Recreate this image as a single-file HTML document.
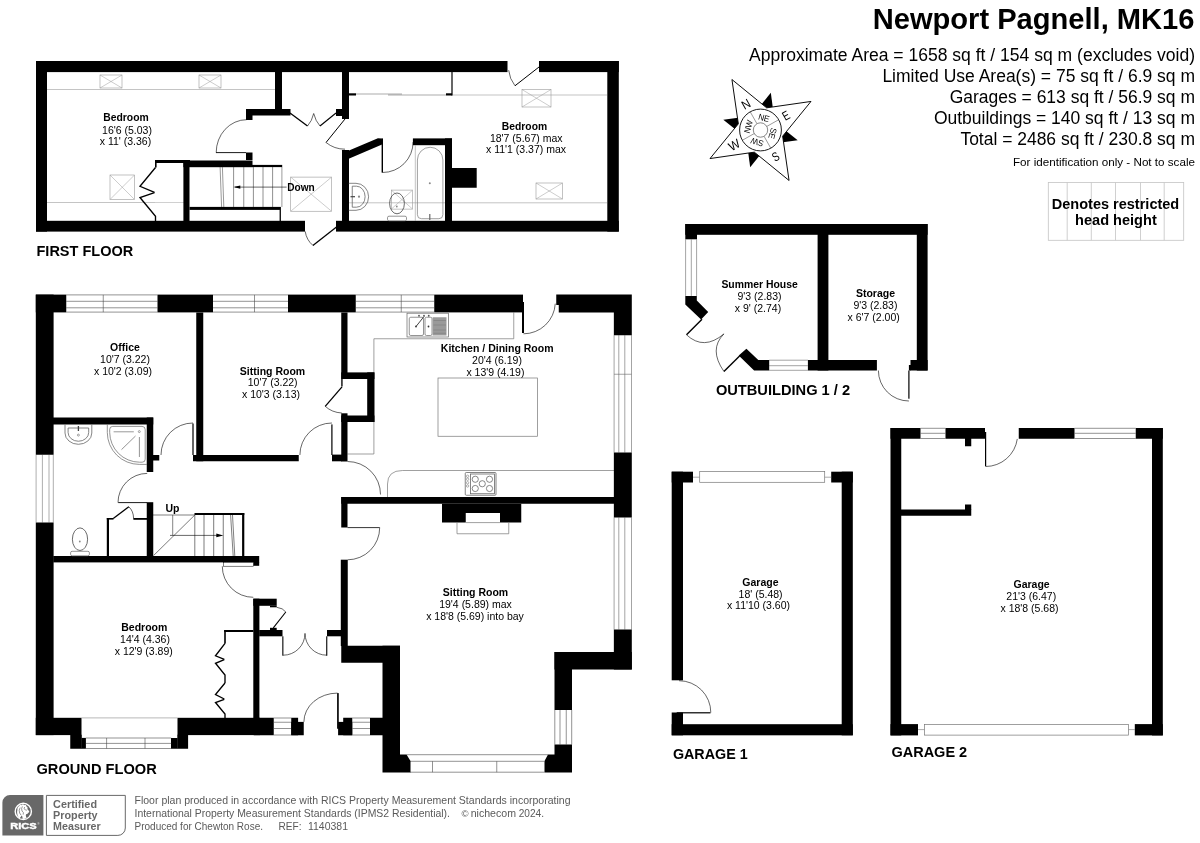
<!DOCTYPE html>
<html><head><meta charset="utf-8"><title>Floor plan</title>
<style>
html,body{margin:0;padding:0;background:#fff;}
body{width:1200px;height:843px;overflow:hidden;font-family:"Liberation Sans",sans-serif;}
svg{display:block;will-change:transform;font-family:"Liberation Sans",sans-serif;}
</style></head><body>
<svg width="1200" height="843" viewBox="0 0 1200 843">
<rect width="1200" height="843" fill="#fff"/>
<line x1="47.00" y1="89.50" x2="275.00" y2="89.50" stroke="#aaa" stroke-width="0.7"/>
<line x1="47.00" y1="202.50" x2="155.00" y2="202.50" stroke="#aaa" stroke-width="0.7"/>
<line x1="155.00" y1="202.50" x2="184.00" y2="202.50" stroke="#bbb" stroke-width="0.7"/>
<line x1="452.00" y1="95.00" x2="607.00" y2="95.00" stroke="#aaa" stroke-width="0.7"/>
<line x1="349.00" y1="202.80" x2="607.00" y2="202.80" stroke="#aaa" stroke-width="0.7"/>
<rect x="100.00" y="75.00" width="22.00" height="13.00" fill="none" stroke="#9a9a9a" stroke-width="0.6" rx="0"/>
<line x1="100.00" y1="75.00" x2="122.00" y2="88.00" stroke="#9a9a9a" stroke-width="0.5"/>
<line x1="100.00" y1="88.00" x2="122.00" y2="75.00" stroke="#9a9a9a" stroke-width="0.5"/>
<rect x="199.00" y="75.00" width="22.00" height="13.00" fill="none" stroke="#9a9a9a" stroke-width="0.6" rx="0"/>
<line x1="199.00" y1="75.00" x2="221.00" y2="88.00" stroke="#9a9a9a" stroke-width="0.5"/>
<line x1="199.00" y1="88.00" x2="221.00" y2="75.00" stroke="#9a9a9a" stroke-width="0.5"/>
<rect x="110.00" y="175.00" width="24.50" height="24.50" fill="none" stroke="#9a9a9a" stroke-width="0.6" rx="0"/>
<line x1="110.00" y1="175.00" x2="134.50" y2="199.50" stroke="#9a9a9a" stroke-width="0.5"/>
<line x1="110.00" y1="199.50" x2="134.50" y2="175.00" stroke="#9a9a9a" stroke-width="0.5"/>
<rect x="290.70" y="177.10" width="40.90" height="34.15" fill="none" stroke="#9a9a9a" stroke-width="0.6" rx="0"/>
<line x1="290.70" y1="177.10" x2="331.60" y2="211.25" stroke="#9a9a9a" stroke-width="0.5"/>
<line x1="290.70" y1="211.25" x2="331.60" y2="177.10" stroke="#9a9a9a" stroke-width="0.5"/>
<rect x="391.30" y="190.10" width="21.30" height="19.00" fill="none" stroke="#9a9a9a" stroke-width="0.6" rx="0"/>
<line x1="391.30" y1="190.10" x2="412.60" y2="209.10" stroke="#9a9a9a" stroke-width="0.5"/>
<line x1="391.30" y1="209.10" x2="412.60" y2="190.10" stroke="#9a9a9a" stroke-width="0.5"/>
<rect x="522.00" y="89.50" width="29.00" height="17.50" fill="none" stroke="#9a9a9a" stroke-width="0.6" rx="0"/>
<line x1="522.00" y1="89.50" x2="551.00" y2="107.00" stroke="#9a9a9a" stroke-width="0.5"/>
<line x1="522.00" y1="107.00" x2="551.00" y2="89.50" stroke="#9a9a9a" stroke-width="0.5"/>
<rect x="536.00" y="183.00" width="26.50" height="16.00" fill="none" stroke="#9a9a9a" stroke-width="0.6" rx="0"/>
<line x1="536.00" y1="183.00" x2="562.50" y2="199.00" stroke="#9a9a9a" stroke-width="0.5"/>
<line x1="536.00" y1="199.00" x2="562.50" y2="183.00" stroke="#9a9a9a" stroke-width="0.5"/>
<rect x="36.00" y="61.00" width="471.50" height="11.10" fill="#000"/>
<rect x="539.00" y="61.00" width="79.80" height="11.10" fill="#000"/>
<rect x="36.00" y="61.00" width="11.00" height="170.60" fill="#000"/>
<rect x="607.30" y="61.00" width="11.50" height="170.60" fill="#000"/>
<rect x="36.00" y="220.80" width="269.00" height="10.80" fill="#000"/>
<rect x="336.00" y="220.80" width="282.80" height="10.80" fill="#000"/>
<rect x="275.00" y="72.00" width="7.00" height="38.00" fill="#000"/>
<rect x="246.00" y="109.00" width="44.50" height="6.50" fill="#000"/>
<rect x="246.00" y="112.00" width="6.50" height="8.00" fill="#000"/>
<rect x="342.00" y="72.00" width="7.00" height="47.00" fill="#000"/>
<rect x="336.00" y="109.00" width="6.50" height="7.00" fill="#000"/>
<line x1="216.00" y1="152.60" x2="246.00" y2="152.60" stroke="#000" stroke-width="0.9"/>
<path d="M216.2,152.6 A30.4,32.9 0 0 1 246.6,119.7" fill="none" stroke="#000" stroke-width="0.6" />
<rect x="246.00" y="152.50" width="6.50" height="7.50" fill="#000"/>
<rect x="155.00" y="160.00" width="35.00" height="3.00" fill="#000"/>
<rect x="155.00" y="160.00" width="1.60" height="7.50" fill="#000"/>
<rect x="183.40" y="160.50" width="69.10" height="6.70" fill="#000"/>
<rect x="183.40" y="160.50" width="6.10" height="60.50" fill="#000"/>
<rect x="252.00" y="164.90" width="30.20" height="2.20" fill="#000"/>
<line x1="281.90" y1="167.00" x2="281.90" y2="207.00" stroke="#555" stroke-width="0.6"/>
<rect x="189.50" y="206.90" width="91.40" height="3.00" fill="#000"/>
<rect x="279.60" y="209.50" width="1.30" height="11.50" fill="#000"/>
<line x1="233.60" y1="167.00" x2="233.60" y2="207.00" stroke="#333" stroke-width="0.55"/>
<line x1="243.75" y1="167.00" x2="243.75" y2="207.00" stroke="#333" stroke-width="0.55"/>
<line x1="253.40" y1="167.00" x2="253.40" y2="207.00" stroke="#333" stroke-width="0.55"/>
<line x1="263.00" y1="167.00" x2="263.00" y2="207.00" stroke="#333" stroke-width="0.55"/>
<line x1="272.60" y1="167.00" x2="272.60" y2="207.00" stroke="#333" stroke-width="0.55"/>
<line x1="220.10" y1="167.00" x2="221.60" y2="207.00" stroke="#333" stroke-width="0.5"/>
<line x1="222.40" y1="167.00" x2="223.80" y2="207.00" stroke="#333" stroke-width="0.5"/>
<line x1="235.00" y1="187.10" x2="286.60" y2="187.10" stroke="#000" stroke-width="0.6"/>
<polygon points="233.40,187.10 240.30,185.40 240.30,188.80" fill="#000" stroke="none" stroke-width="0"/>
<polyline points="155.50,167.50 140.00,186.25 154.50,192.30" fill="none" stroke="#000" stroke-width="1.35" />
<polyline points="154.50,192.60 140.00,197.50 155.50,216.25 155.50,221.00" fill="none" stroke="#000" stroke-width="1.35" />
<line x1="290.00" y1="113.00" x2="307.50" y2="126.00" stroke="#000" stroke-width="1.3"/>
<line x1="336.00" y1="113.00" x2="320.00" y2="126.00" stroke="#000" stroke-width="1.1"/>
<path d="M307.5,126 Q312,121 313.7,113.5 Q315.5,121 320,126" fill="none" stroke="#000" stroke-width="0.6" />
<line x1="345.00" y1="119.00" x2="326.00" y2="142.50" stroke="#000" stroke-width="1.0"/>
<path d="M325.99,142.47 A30.20,30.20 0 0 0 345.00,149.20" fill="none" stroke="#000" stroke-width="0.6" />
<rect x="342.00" y="150.00" width="7.00" height="71.00" fill="#000"/>
<polygon points="341.75,150.10 348.40,150.80 377.90,138.20 381.80,138.40 382.60,144.20 348.75,158.80" fill="#000" stroke="none" stroke-width="0"/>
<rect x="381.60" y="138.40" width="1.40" height="34.20" fill="#000"/>
<path d="M382.60,172.50 A30.50,30.50 0 0 0 413.10,142.00" fill="none" stroke="#000" stroke-width="0.6" />
<rect x="412.90" y="138.40" width="39.10" height="6.80" fill="#000"/>
<rect x="445.00" y="138.40" width="7.00" height="82.60" fill="#000"/>
<rect x="452.00" y="168.00" width="24.70" height="19.75" fill="#000"/>
<line x1="415.30" y1="145.20" x2="415.30" y2="221.00" stroke="#9a9a9a" stroke-width="0.6"/>
<path d="M417.4,214.7 V160 A12.75,12.75 0 0 1 442.9,160 V214.7 A4,4 0 0 1 438.9,218.7 H421.4 A4,4 0 0 1 417.4,214.7 Z" fill="none" stroke="#777" stroke-width="0.7" />
<circle cx="429.8" cy="183.3" r="1" fill="#888"/>
<line x1="429.80" y1="214.00" x2="429.80" y2="220.00" stroke="#666" stroke-width="1.2"/>
<path d="M348.75,183.3 H356 A12.6,13.5 0 0 1 356,210.3 H348.75" fill="none" stroke="#666" stroke-width="0.8" />
<path d="M352.25,186.2 H356.5 A8.6,10.5 0 0 1 356.5,207.2 H352.25 Z" fill="none" stroke="#666" stroke-width="0.8" />
<line x1="350.50" y1="196.70" x2="355.00" y2="196.70" stroke="#444" stroke-width="1.2"/>
<circle cx="359" cy="196.7" r="1.1" fill="#888"/>
<ellipse cx="397" cy="203.4" rx="7.4" ry="10.4" fill="none" stroke="#444" stroke-width="0.8"/>
<rect x="387.50" y="216.20" width="19.00" height="4.60" fill="#fff" stroke="#666" stroke-width="0.7" rx="1.5"/>
<circle cx="396.8" cy="206.5" r="0.9" fill="#888"/>
<line x1="452.00" y1="72.00" x2="452.00" y2="95.50" stroke="#000" stroke-width="1.2"/>
<rect x="349.00" y="93.30" width="7.00" height="2.20" fill="#000"/>
<rect x="446.00" y="93.30" width="6.00" height="2.20" fill="#000"/>
<line x1="356.00" y1="94.00" x2="402.00" y2="94.00" stroke="#555" stroke-width="0.5"/>
<line x1="388.00" y1="95.00" x2="446.00" y2="95.00" stroke="#555" stroke-width="0.5"/>
<line x1="539.00" y1="67.00" x2="515.00" y2="85.75" stroke="#000" stroke-width="1.0"/>
<path d="M514.97,85.78 A30.50,30.50 0 0 1 508.67,70.19" fill="none" stroke="#000" stroke-width="0.6" />
<line x1="336.50" y1="227.00" x2="312.90" y2="245.40" stroke="#000" stroke-width="1.3"/>
<path d="M312.9,245.4 Q306.5,240 305.2,231.4" fill="none" stroke="#000" stroke-width="0.6" />
<text x="126.00" y="121.40" font-size="10.5" text-anchor="middle" font-weight="bold" textLength="45.50" lengthAdjust="spacingAndGlyphs" fill="#000" >Bedroom</text>
<text x="127.00" y="133.50" font-size="10.5" text-anchor="middle" fill="#000" >16'6 (5.03)</text>
<text x="125.50" y="145.40" font-size="10.5" text-anchor="middle" fill="#000" >x 11' (3.36)</text>
<text x="524.50" y="129.60" font-size="10.5" text-anchor="middle" font-weight="bold" textLength="45.30" lengthAdjust="spacingAndGlyphs" fill="#000" >Bedroom</text>
<text x="526.20" y="141.80" font-size="10.5" text-anchor="middle" fill="#000" >18'7 (5.67) max</text>
<text x="526.00" y="152.90" font-size="10.5" text-anchor="middle" fill="#000" >x 11'1 (3.37) max</text>
<text x="301.00" y="190.50" font-size="10.5" text-anchor="middle" font-weight="bold" textLength="27.50" lengthAdjust="spacingAndGlyphs" fill="#000" >Down</text>
<text x="36.50" y="256.10" font-size="14.5" text-anchor="start" font-weight="bold" textLength="96.70" lengthAdjust="spacingAndGlyphs" fill="#000" >FIRST FLOOR</text>
<line x1="66.25" y1="294.90" x2="157.50" y2="294.90" stroke="#4a4a4a" stroke-width="0.6"/>
<line x1="66.25" y1="301.30" x2="157.50" y2="301.30" stroke="#4a4a4a" stroke-width="0.6"/>
<line x1="66.25" y1="307.80" x2="157.50" y2="307.80" stroke="#4a4a4a" stroke-width="0.6"/>
<line x1="66.25" y1="312.10" x2="157.50" y2="312.10" stroke="#4a4a4a" stroke-width="0.6"/>
<line x1="103.25" y1="294.90" x2="103.25" y2="312.10" stroke="#4a4a4a" stroke-width="0.6"/>
<line x1="213.00" y1="294.90" x2="288.00" y2="294.90" stroke="#4a4a4a" stroke-width="0.6"/>
<line x1="213.00" y1="301.30" x2="288.00" y2="301.30" stroke="#4a4a4a" stroke-width="0.6"/>
<line x1="213.00" y1="307.80" x2="288.00" y2="307.80" stroke="#4a4a4a" stroke-width="0.6"/>
<line x1="213.00" y1="312.10" x2="288.00" y2="312.10" stroke="#4a4a4a" stroke-width="0.6"/>
<line x1="254.50" y1="294.90" x2="254.50" y2="312.10" stroke="#4a4a4a" stroke-width="0.6"/>
<line x1="355.75" y1="294.90" x2="434.25" y2="294.90" stroke="#4a4a4a" stroke-width="0.6"/>
<line x1="355.75" y1="301.30" x2="434.25" y2="301.30" stroke="#4a4a4a" stroke-width="0.6"/>
<line x1="355.75" y1="307.80" x2="434.25" y2="307.80" stroke="#4a4a4a" stroke-width="0.6"/>
<line x1="355.75" y1="312.10" x2="434.25" y2="312.10" stroke="#4a4a4a" stroke-width="0.6"/>
<line x1="401.25" y1="294.90" x2="401.25" y2="312.10" stroke="#4a4a4a" stroke-width="0.6"/>
<line x1="36.10" y1="454.75" x2="36.10" y2="522.50" stroke="#777" stroke-width="0.6"/>
<line x1="42.40" y1="454.75" x2="42.40" y2="522.50" stroke="#777" stroke-width="0.6"/>
<line x1="49.00" y1="454.75" x2="49.00" y2="522.50" stroke="#777" stroke-width="0.6"/>
<line x1="53.30" y1="454.75" x2="53.30" y2="522.50" stroke="#777" stroke-width="0.6"/>
<line x1="614.10" y1="335.20" x2="614.10" y2="452.50" stroke="#666" stroke-width="0.6"/>
<line x1="618.80" y1="335.20" x2="618.80" y2="452.50" stroke="#666" stroke-width="0.6"/>
<line x1="624.80" y1="335.20" x2="624.80" y2="452.50" stroke="#666" stroke-width="0.6"/>
<line x1="631.50" y1="335.20" x2="631.50" y2="452.50" stroke="#666" stroke-width="0.6"/>
<line x1="614.10" y1="374.25" x2="631.50" y2="374.25" stroke="#666" stroke-width="0.6"/>
<line x1="614.10" y1="517.50" x2="614.10" y2="629.50" stroke="#666" stroke-width="0.6"/>
<line x1="618.80" y1="517.50" x2="618.80" y2="629.50" stroke="#666" stroke-width="0.6"/>
<line x1="624.80" y1="517.50" x2="624.80" y2="629.50" stroke="#666" stroke-width="0.6"/>
<line x1="631.50" y1="517.50" x2="631.50" y2="629.50" stroke="#666" stroke-width="0.6"/>
<polyline points="513.75,312.50 513.75,338.75 373.90,338.75 373.90,454.00" fill="none" stroke="#777" stroke-width="0.7" />
<line x1="347.50" y1="454.00" x2="373.90" y2="454.00" stroke="#777" stroke-width="0.7"/>
<path d="M387.5,497 V484 Q387.5,470.5 402.5,470.5 H614.25" fill="none" stroke="#777" stroke-width="0.7" />
<rect x="438.00" y="378.00" width="99.50" height="58.25" fill="none" stroke="#777" stroke-width="0.7" rx="0"/>
<rect x="35.80" y="294.60" width="30.45" height="17.80" fill="#000"/>
<rect x="157.50" y="294.60" width="55.50" height="17.80" fill="#000"/>
<rect x="288.00" y="294.60" width="67.75" height="17.80" fill="#000"/>
<rect x="434.25" y="294.60" width="88.75" height="17.80" fill="#000"/>
<polygon points="556.25,294.60 631.80,294.60 631.80,335.20 613.85,335.20 613.85,312.40 558.75,312.40 558.75,305.00 556.25,305.00" fill="#000" stroke="none" stroke-width="0"/>
<rect x="35.80" y="294.60" width="17.80" height="160.15" fill="#000"/>
<rect x="35.80" y="522.50" width="17.80" height="212.60" fill="#000"/>
<rect x="613.85" y="452.50" width="17.95" height="65.00" fill="#000"/>
<rect x="613.85" y="629.50" width="17.95" height="40.00" fill="#000"/>
<rect x="554.50" y="652.00" width="77.30" height="17.50" fill="#000"/>
<rect x="554.50" y="652.00" width="17.50" height="58.00" fill="#000"/>
<line x1="554.80" y1="710.00" x2="554.80" y2="744.50" stroke="#4a4a4a" stroke-width="0.6"/>
<line x1="560.00" y1="710.00" x2="560.00" y2="744.50" stroke="#4a4a4a" stroke-width="0.6"/>
<line x1="566.25" y1="710.00" x2="566.25" y2="744.50" stroke="#4a4a4a" stroke-width="0.6"/>
<line x1="571.70" y1="710.00" x2="571.70" y2="744.50" stroke="#4a4a4a" stroke-width="0.6"/>
<polygon points="554.50,744.50 572.00,744.50 572.00,772.50 544.50,772.50 544.50,761.00 548.00,754.50 554.50,754.50" fill="#000" stroke="none" stroke-width="0"/>
<line x1="406.50" y1="754.70" x2="548.00" y2="754.70" stroke="#4a4a4a" stroke-width="0.6"/>
<line x1="410.00" y1="761.30" x2="544.50" y2="761.30" stroke="#4a4a4a" stroke-width="0.6"/>
<line x1="410.00" y1="772.20" x2="544.50" y2="772.20" stroke="#4a4a4a" stroke-width="0.6"/>
<line x1="432.50" y1="761.30" x2="432.50" y2="772.20" stroke="#4a4a4a" stroke-width="0.6"/>
<line x1="496.75" y1="761.30" x2="496.75" y2="772.20" stroke="#4a4a4a" stroke-width="0.6"/>
<polygon points="382.50,645.75 400.00,645.75 400.00,754.50 406.50,754.50 410.50,761.00 410.50,772.50 382.50,772.50" fill="#000" stroke="none" stroke-width="0"/>
<rect x="341.25" y="645.75" width="58.75" height="17.00" fill="#000"/>
<rect x="338.10" y="721.90" width="14.15" height="13.35" fill="#000"/>
<rect x="343.20" y="717.75" width="9.05" height="17.50" fill="#000"/>
<line x1="352.25" y1="718.00" x2="370.00" y2="718.00" stroke="#4a4a4a" stroke-width="0.6"/>
<line x1="352.25" y1="722.25" x2="370.00" y2="722.25" stroke="#4a4a4a" stroke-width="0.6"/>
<line x1="352.25" y1="728.50" x2="370.00" y2="728.50" stroke="#4a4a4a" stroke-width="0.6"/>
<line x1="352.25" y1="735.00" x2="370.00" y2="735.00" stroke="#4a4a4a" stroke-width="0.6"/>
<rect x="370.00" y="717.75" width="13.00" height="17.50" fill="#000"/>
<rect x="253.75" y="717.75" width="20.00" height="17.50" fill="#000"/>
<line x1="273.75" y1="718.00" x2="291.25" y2="718.00" stroke="#4a4a4a" stroke-width="0.6"/>
<line x1="273.75" y1="722.25" x2="291.25" y2="722.25" stroke="#4a4a4a" stroke-width="0.6"/>
<line x1="273.75" y1="728.50" x2="291.25" y2="728.50" stroke="#4a4a4a" stroke-width="0.6"/>
<line x1="273.75" y1="735.00" x2="291.25" y2="735.00" stroke="#4a4a4a" stroke-width="0.6"/>
<rect x="291.25" y="717.75" width="6.85" height="17.50" fill="#000"/>
<rect x="291.25" y="721.90" width="12.50" height="13.35" fill="#000"/>
<rect x="337.10" y="693.10" width="1.65" height="35.65" fill="#000"/>
<path d="M303.9,721.9 A33.6,28.8 0 0 1 337.5,693.1" fill="none" stroke="#000" stroke-width="0.6" />
<rect x="35.80" y="717.80" width="45.70" height="17.30" fill="#000"/>
<rect x="177.50" y="717.80" width="82.50" height="17.30" fill="#000"/>
<rect x="70.25" y="734.80" width="11.55" height="13.95" fill="#000"/>
<rect x="81.50" y="737.90" width="4.40" height="10.85" fill="#000"/>
<rect x="177.30" y="734.80" width="10.80" height="13.95" fill="#000"/>
<rect x="171.00" y="738.00" width="6.60" height="10.75" fill="#000"/>
<line x1="81.50" y1="717.90" x2="177.50" y2="717.90" stroke="#888" stroke-width="0.6"/>
<line x1="85.90" y1="738.00" x2="171.20" y2="738.00" stroke="#4a4a4a" stroke-width="0.6"/>
<line x1="85.90" y1="743.40" x2="171.20" y2="743.40" stroke="#4a4a4a" stroke-width="0.6"/>
<line x1="85.90" y1="748.50" x2="171.20" y2="748.50" stroke="#4a4a4a" stroke-width="0.6"/>
<line x1="106.60" y1="738.00" x2="106.60" y2="748.50" stroke="#4a4a4a" stroke-width="0.6"/>
<line x1="145.00" y1="738.00" x2="145.00" y2="748.50" stroke="#4a4a4a" stroke-width="0.6"/>
<rect x="196.25" y="312.50" width="7.00" height="148.75" fill="#000"/>
<rect x="193.00" y="455.00" width="105.75" height="6.25" fill="#000"/>
<rect x="192.40" y="423.50" width="1.20" height="31.50" fill="#000"/>
<path d="M193.00,423.00 A32.00,32.00 0 0 0 161.00,455.00" fill="none" stroke="#000" stroke-width="0.6" />
<rect x="53.00" y="417.50" width="100.25" height="7.00" fill="#000"/>
<rect x="146.75" y="417.50" width="6.50" height="54.50" fill="#000"/>
<rect x="153.00" y="455.00" width="6.25" height="5.50" fill="#000"/>
<rect x="341.25" y="312.50" width="6.25" height="66.50" fill="#000"/>
<rect x="341.25" y="372.40" width="33.15" height="6.60" fill="#000"/>
<rect x="367.20" y="372.40" width="7.20" height="49.60" fill="#000"/>
<rect x="341.25" y="415.50" width="33.15" height="6.50" fill="#000"/>
<rect x="341.25" y="413.30" width="6.25" height="48.20" fill="#000"/>
<rect x="341.25" y="379.00" width="1.35" height="7.50" fill="#000"/>
<line x1="342.00" y1="386.80" x2="325.20" y2="406.30" stroke="#000" stroke-width="1.3"/>
<path d="M325.2,406.3 Q332,412.5 341.8,413" fill="none" stroke="#000" stroke-width="0.6" />
<rect x="332.00" y="454.60" width="10.00" height="6.70" fill="#000"/>
<rect x="331.30" y="424.40" width="1.20" height="30.60" fill="#000"/>
<path d="M331.90,423.00 A32.00,32.00 0 0 0 299.90,455.00" fill="none" stroke="#000" stroke-width="0.6" />
<rect x="522.00" y="302.00" width="2.00" height="31.00" fill="#000"/>
<path d="M523.50,333.80 A31.80,31.80 0 0 0 555.26,303.66" fill="none" stroke="#000" stroke-width="0.6" />
<path d="M347.50,461.50 A33.00,33.00 0 0 1 380.50,494.50" fill="none" stroke="#000" stroke-width="0.6" />
<rect x="341.25" y="497.00" width="273.00" height="6.75" fill="#000"/>
<rect x="341.25" y="497.00" width="6.25" height="30.50" fill="#000"/>
<rect x="341.25" y="560.00" width="6.25" height="86.00" fill="#000"/>
<line x1="347.50" y1="527.60" x2="379.70" y2="527.60" stroke="#000" stroke-width="0.8"/>
<path d="M379.70,527.60 A32.20,32.20 0 0 1 347.50,559.80" fill="none" stroke="#000" stroke-width="0.6" />
<rect x="442.00" y="503.75" width="79.25" height="18.75" fill="#000"/>
<rect x="465.75" y="513.00" width="34.25" height="10.00" fill="#fff"/>
<polyline points="457.00,522.50 457.00,533.75 508.75,533.75 508.75,522.50" fill="none" stroke="#777" stroke-width="0.7" />
<line x1="465.75" y1="522.60" x2="500.00" y2="522.60" stroke="#777" stroke-width="0.7"/>
<line x1="118.20" y1="502.60" x2="147.20" y2="502.60" stroke="#000" stroke-width="0.9"/>
<path d="M118.00,502.60 A29.20,29.20 0 0 1 147.20,473.40" fill="none" stroke="#000" stroke-width="0.6" />
<rect x="146.75" y="502.20" width="6.50" height="54.30" fill="#000"/>
<rect x="106.80" y="518.00" width="2.20" height="38.50" fill="#000"/>
<rect x="106.80" y="518.00" width="6.70" height="1.60" fill="#000"/>
<rect x="133.40" y="518.00" width="13.80" height="1.80" fill="#000"/>
<line x1="113.25" y1="518.60" x2="128.80" y2="506.75" stroke="#000" stroke-width="1.3"/>
<path d="M128.8,506.75 Q133.5,511 133.6,518.5" fill="none" stroke="#000" stroke-width="0.6" />
<rect x="53.25" y="556.00" width="205.95" height="6.40" fill="#000"/>
<rect x="253.30" y="562.00" width="5.90" height="3.80" fill="#000"/>
<rect x="194.50" y="513.00" width="49.80" height="2.00" fill="#000"/>
<rect x="242.10" y="513.00" width="2.20" height="43.50" fill="#000"/>
<line x1="153.00" y1="515.00" x2="194.80" y2="515.00" stroke="#000" stroke-width="0.5"/>
<line x1="194.80" y1="515.00" x2="194.80" y2="556.00" stroke="#222" stroke-width="0.6"/>
<line x1="204.00" y1="515.00" x2="204.00" y2="556.00" stroke="#222" stroke-width="0.6"/>
<line x1="213.70" y1="515.00" x2="213.70" y2="556.00" stroke="#222" stroke-width="0.6"/>
<line x1="223.25" y1="515.00" x2="223.25" y2="556.00" stroke="#222" stroke-width="0.6"/>
<line x1="230.60" y1="515.00" x2="233.20" y2="556.00" stroke="#000" stroke-width="0.5"/>
<line x1="232.50" y1="515.00" x2="234.80" y2="556.00" stroke="#000" stroke-width="0.5"/>
<line x1="153.60" y1="555.50" x2="194.80" y2="515.00" stroke="#222" stroke-width="0.6"/>
<line x1="172.70" y1="515.00" x2="172.70" y2="535.40" stroke="#333" stroke-width="0.6"/>
<line x1="170.00" y1="535.40" x2="217.00" y2="535.40" stroke="#000" stroke-width="0.6"/>
<polygon points="223.30,535.40 216.30,533.60 216.30,537.20" fill="#000" stroke="none" stroke-width="0"/>
<rect x="223.50" y="562.40" width="29.80" height="3.80" fill="#fff" stroke="#000" stroke-width="0.5" rx="0"/>
<path d="M222.30,566.30 A31.00,31.00 0 0 0 253.30,597.30" fill="none" stroke="#000" stroke-width="0.6" />
<rect x="253.30" y="598.70" width="6.10" height="136.30" fill="#000"/>
<rect x="253.30" y="598.70" width="23.40" height="7.10" fill="#000"/>
<rect x="270.00" y="605.80" width="6.70" height="1.50" fill="#000"/>
<path d="M276.7,607.3 Q283,608 285.8,612" fill="none" stroke="#000" stroke-width="0.6" />
<line x1="285.80" y1="612.00" x2="273.30" y2="627.80" stroke="#000" stroke-width="1.1"/>
<rect x="270.00" y="627.80" width="6.70" height="2.70" fill="#000"/>
<rect x="259.20" y="630.00" width="23.30" height="6.30" fill="#000"/>
<rect x="224.20" y="630.00" width="29.30" height="2.00" fill="#000"/>
<rect x="224.20" y="630.00" width="1.60" height="13.50" fill="#000"/>
<polyline points="225.00,643.30 215.50,655.80 224.30,659.30" fill="none" stroke="#000" stroke-width="1.35" />
<polyline points="224.30,659.60 215.50,663.30 225.00,675.00 225.00,683.00" fill="none" stroke="#000" stroke-width="1.35" />
<polyline points="225.00,683.00 215.50,694.50 224.30,699.00" fill="none" stroke="#000" stroke-width="1.35" />
<polyline points="224.30,699.30 215.50,702.50 225.00,714.00 225.00,718.00" fill="none" stroke="#000" stroke-width="1.35" />
<rect x="282.30" y="636.30" width="1.10" height="19.40" fill="#000"/>
<path d="M283.20,655.20 A21.80,21.80 0 0 0 305.00,633.40" fill="none" stroke="#000" stroke-width="0.6" />
<rect x="326.20" y="636.30" width="1.10" height="19.40" fill="#000"/>
<path d="M326.80,655.20 A21.80,21.80 0 0 1 305.00,633.40" fill="none" stroke="#000" stroke-width="0.6" />
<rect x="327.00" y="630.00" width="14.00" height="6.30" fill="#000"/>
<rect x="340.80" y="559.70" width="6.70" height="86.30" fill="#000"/>
<text x="125.00" y="351.05" font-size="10.5" text-anchor="middle" font-weight="bold" fill="#000" >Office</text>
<text x="125.00" y="363.30" font-size="10.5" text-anchor="middle" fill="#000" >10'7 (3.22)</text>
<text x="123.00" y="375.10" font-size="10.5" text-anchor="middle" fill="#000" >x 10'2 (3.09)</text>
<text x="272.50" y="374.55" font-size="10.5" text-anchor="middle" font-weight="bold" fill="#000" >Sitting Room</text>
<text x="272.70" y="385.90" font-size="10.5" text-anchor="middle" fill="#000" >10'7 (3.22)</text>
<text x="271.00" y="397.70" font-size="10.5" text-anchor="middle" fill="#000" >x 10'3 (3.13)</text>
<text x="497.20" y="352.25" font-size="10.5" text-anchor="middle" font-weight="bold" textLength="112.70" lengthAdjust="spacingAndGlyphs" fill="#000" >Kitchen / Dining Room</text>
<text x="497.00" y="364.40" font-size="10.5" text-anchor="middle" fill="#000" >20'4 (6.19)</text>
<text x="495.40" y="376.10" font-size="10.5" text-anchor="middle" fill="#000" >x 13'9 (4.19)</text>
<text x="475.50" y="596.10" font-size="10.5" text-anchor="middle" font-weight="bold" fill="#000" >Sitting Room</text>
<text x="475.50" y="607.90" font-size="10.5" text-anchor="middle" fill="#000" >19'4 (5.89) max</text>
<text x="475.00" y="619.80" font-size="10.5" text-anchor="middle" fill="#000" >x 18'8 (5.69) into bay</text>
<text x="144.25" y="631.10" font-size="10.5" text-anchor="middle" font-weight="bold" fill="#000" >Bedroom</text>
<text x="145.00" y="642.60" font-size="10.5" text-anchor="middle" fill="#000" >14'4 (4.36)</text>
<text x="143.75" y="654.70" font-size="10.5" text-anchor="middle" fill="#000" >x 12'9 (3.89)</text>
<text x="172.40" y="512.20" font-size="10.5" text-anchor="middle" font-weight="bold" fill="#000" >Up</text>
<text x="36.50" y="773.80" font-size="14.5" text-anchor="start" font-weight="bold" textLength="120.20" lengthAdjust="spacingAndGlyphs" fill="#000" >GROUND FLOOR</text>
<path d="M65,424.5 V433 A13.4,11.3 0 0 0 91.8,433 V424.5" fill="none" stroke="#666" stroke-width="0.8" />
<path d="M68.1,428 H88.7 V432.5 A10.3,8.75 0 0 1 68.1,432.5 Z" fill="none" stroke="#666" stroke-width="0.8" />
<line x1="78.40" y1="426.00" x2="78.40" y2="431.00" stroke="#444" stroke-width="1.3"/>
<circle cx="78.4" cy="435.1" r="1" fill="none" stroke="#666" stroke-width="0.6"/>
<path d="M107.3,424.5 V432.5 A32,32 0 0 0 139.3,464.4 H146.9" fill="none" stroke="#666" stroke-width="0.7" />
<path d="M109.7,429.4 A3,3 0 0 1 112.7,426.4 H142 A3.2,3.2 0 0 1 145.2,429.6 V459.2 A3,3 0 0 1 142.2,462.2 H139.5 A30,30 0 0 1 109.7,432.5 Z" fill="none" stroke="#666" stroke-width="0.7" />
<line x1="113.60" y1="431.80" x2="133.80" y2="431.80" stroke="#999" stroke-width="1.0"/>
<line x1="135.50" y1="436.00" x2="121.50" y2="449.60" stroke="#666" stroke-width="0.7"/>
<line x1="139.40" y1="437.00" x2="139.40" y2="457.00" stroke="#666" stroke-width="0.7"/>
<circle cx="139.3" cy="431.6" r="1" fill="none" stroke="#666" stroke-width="0.6"/>
<ellipse cx="80" cy="539.2" rx="7.6" ry="11.3" fill="#fff" stroke="#444" stroke-width="0.8"/>
<rect x="70.60" y="551.30" width="18.80" height="4.50" fill="#fff" stroke="#666" stroke-width="0.7" rx="1.5"/>
<circle cx="79.8" cy="541.5" r="0.9" fill="#888"/>
<rect x="407.00" y="313.20" width="41.50" height="23.80" fill="none" stroke="#666" stroke-width="0.7" rx="0"/>
<rect x="409.25" y="317.25" width="14.25" height="18.25" fill="none" stroke="#666" stroke-width="0.7" rx="1.5"/>
<rect x="425.00" y="317.25" width="7.00" height="18.25" fill="none" stroke="#666" stroke-width="0.7" rx="1.5"/>
<rect x="432.60" y="317.25" width="13.90" height="18.25" fill="#9a9a9a"/>
<line x1="433.50" y1="320.50" x2="446.00" y2="320.50" stroke="#777" stroke-width="0.5"/>
<line x1="433.50" y1="325.00" x2="446.00" y2="325.00" stroke="#777" stroke-width="0.5"/>
<line x1="433.50" y1="330.00" x2="446.00" y2="330.00" stroke="#777" stroke-width="0.5"/>
<line x1="433.50" y1="333.30" x2="446.00" y2="333.30" stroke="#777" stroke-width="0.5"/>
<circle cx="419" cy="315.75" r="0.9" fill="#555"/>
<circle cx="424" cy="315.75" r="0.9" fill="#555"/>
<circle cx="428.75" cy="315.75" r="0.9" fill="#555"/>
<line x1="424.00" y1="316.50" x2="416.00" y2="326.50" stroke="#444" stroke-width="1.0"/>
<circle cx="416" cy="326.5" r="0.9" fill="#333"/><circle cx="428.5" cy="326.5" r="0.9" fill="#333"/>
<rect x="465.25" y="472.50" width="30.75" height="22.75" fill="none" stroke="#666" stroke-width="0.8" rx="1"/>
<rect x="470.50" y="474.00" width="24.00" height="19.75" fill="none" stroke="#666" stroke-width="0.8" rx="0"/>
<circle cx="467.6" cy="476.25" r="1.2" fill="none" stroke="#666" stroke-width="0.5"/>
<circle cx="467.6" cy="479.25" r="1.2" fill="none" stroke="#666" stroke-width="0.5"/>
<circle cx="467.6" cy="482.75" r="1.2" fill="none" stroke="#666" stroke-width="0.5"/>
<circle cx="467.6" cy="486" r="1.2" fill="none" stroke="#666" stroke-width="0.5"/>
<circle cx="475.25" cy="479.25" r="3.1" fill="none" stroke="#555" stroke-width="0.7"/>
<circle cx="489.5" cy="479.25" r="3.1" fill="none" stroke="#555" stroke-width="0.7"/>
<circle cx="482.25" cy="483.75" r="3.1" fill="none" stroke="#555" stroke-width="0.7"/>
<circle cx="475.25" cy="488.5" r="3.1" fill="none" stroke="#555" stroke-width="0.7"/>
<circle cx="489.5" cy="488.5" r="3.1" fill="none" stroke="#555" stroke-width="0.7"/>
<rect x="685.30" y="224.00" width="242.30" height="10.80" fill="#000"/>
<rect x="685.30" y="224.00" width="11.70" height="15.30" fill="#000"/>
<line x1="685.60" y1="239.30" x2="685.60" y2="295.90" stroke="#666" stroke-width="0.6"/>
<line x1="691.30" y1="239.30" x2="691.30" y2="295.90" stroke="#666" stroke-width="0.6"/>
<line x1="696.60" y1="239.30" x2="696.60" y2="295.90" stroke="#666" stroke-width="0.6"/>
<polygon points="685.30,295.90 696.80,295.90 696.80,300.40 708.20,312.00 701.10,319.40 685.30,304.60" fill="#000" stroke="none" stroke-width="0"/>
<rect x="817.60" y="224.00" width="10.80" height="146.50" fill="#000"/>
<rect x="916.80" y="224.00" width="10.80" height="146.50" fill="#000"/>
<rect x="807.90" y="360.00" width="69.00" height="10.50" fill="#000"/>
<rect x="910.50" y="360.00" width="17.10" height="10.50" fill="#000"/>
<rect x="908.90" y="365.00" width="2.10" height="5.50" fill="#000"/>
<line x1="769.20" y1="360.20" x2="807.90" y2="360.20" stroke="#666" stroke-width="0.6"/>
<line x1="769.20" y1="365.70" x2="807.90" y2="365.70" stroke="#666" stroke-width="0.6"/>
<line x1="769.20" y1="370.30" x2="807.90" y2="370.30" stroke="#666" stroke-width="0.6"/>
<polygon points="746.40,348.80 758.30,360.00 769.20,360.00 769.20,370.60 754.10,370.60 738.70,355.60" fill="#000" stroke="none" stroke-width="0"/>
<line x1="702.00" y1="319.20" x2="686.50" y2="334.80" stroke="#000" stroke-width="1.4"/>
<line x1="739.60" y1="355.90" x2="723.90" y2="371.40" stroke="#000" stroke-width="1.4"/>
<path d="M686.5,334.8 Q703.8,350.9 723.9,333.9" fill="none" stroke="#000" stroke-width="0.6" />
<path d="M723.9,371.4 Q708.5,349.4 723.9,333.9" fill="none" stroke="#000" stroke-width="0.6" />
<rect x="908.30" y="370.50" width="1.20" height="28.20" fill="#000"/>
<path d="M908.90,401.00 A30.50,30.50 0 0 1 878.40,370.50" fill="none" stroke="#000" stroke-width="0.6" />
<text x="759.60" y="288.40" font-size="10.5" text-anchor="middle" font-weight="bold" textLength="76.40" lengthAdjust="spacingAndGlyphs" fill="#000" >Summer House</text>
<text x="759.50" y="300.40" font-size="10.5" text-anchor="middle" fill="#000" >9'3 (2.83)</text>
<text x="758.00" y="311.50" font-size="10.5" text-anchor="middle" fill="#000" >x 9' (2.74)</text>
<text x="875.50" y="296.60" font-size="10.5" text-anchor="middle" font-weight="bold" fill="#000" >Storage</text>
<text x="875.40" y="308.50" font-size="10.5" text-anchor="middle" fill="#000" >9'3 (2.83)</text>
<text x="873.70" y="320.50" font-size="10.5" text-anchor="middle" fill="#000" >x 6'7 (2.00)</text>
<text x="715.90" y="395.30" font-size="14.5" text-anchor="start" font-weight="bold" textLength="134.20" lengthAdjust="spacingAndGlyphs" fill="#000" >OUTBUILDING 1 / 2</text>
<rect x="671.70" y="471.70" width="21.30" height="10.80" fill="#000"/>
<rect x="831.20" y="471.70" width="21.60" height="10.80" fill="#000"/>
<rect x="671.70" y="471.70" width="11.30" height="208.60" fill="#000"/>
<rect x="671.70" y="712.50" width="11.30" height="22.80" fill="#000"/>
<rect x="671.70" y="724.20" width="181.10" height="11.10" fill="#000"/>
<rect x="841.70" y="471.70" width="11.10" height="263.60" fill="#000"/>
<rect x="699.70" y="471.60" width="125.00" height="10.70" fill="none" stroke="#777" stroke-width="0.7" rx="0"/>
<line x1="693.00" y1="477.20" x2="699.70" y2="477.20" stroke="#888" stroke-width="0.7"/>
<line x1="824.70" y1="477.20" x2="831.20" y2="477.20" stroke="#888" stroke-width="0.7"/>
<rect x="676.70" y="712.20" width="33.80" height="1.20" fill="#000"/>
<path d="M679.00,680.70 A31.80,31.80 0 0 1 710.80,712.50" fill="none" stroke="#000" stroke-width="0.6" />
<text x="760.40" y="586.20" font-size="10.5" text-anchor="middle" font-weight="bold" fill="#000" >Garage</text>
<text x="760.60" y="597.60" font-size="10.5" text-anchor="middle" fill="#000" >18' (5.48)</text>
<text x="758.50" y="609.40" font-size="10.5" text-anchor="middle" fill="#000" >x 11'10 (3.60)</text>
<text x="672.90" y="759.10" font-size="14.5" text-anchor="start" font-weight="bold" textLength="74.80" lengthAdjust="spacingAndGlyphs" fill="#000" >GARAGE 1</text>
<rect x="890.50" y="428.00" width="10.75" height="307.40" fill="#000"/>
<rect x="1152.00" y="428.00" width="10.80" height="307.40" fill="#000"/>
<rect x="890.50" y="428.00" width="30.00" height="10.75" fill="#000"/>
<rect x="945.50" y="428.00" width="39.50" height="10.75" fill="#000"/>
<rect x="965.00" y="438.00" width="6.25" height="8.25" fill="#000"/>
<rect x="1018.75" y="428.00" width="55.75" height="10.75" fill="#000"/>
<rect x="1135.75" y="428.00" width="27.05" height="10.75" fill="#000"/>
<line x1="920.50" y1="428.30" x2="945.50" y2="428.30" stroke="#4a4a4a" stroke-width="0.6"/>
<line x1="920.50" y1="433.30" x2="945.50" y2="433.30" stroke="#4a4a4a" stroke-width="0.6"/>
<line x1="920.50" y1="438.50" x2="945.50" y2="438.50" stroke="#4a4a4a" stroke-width="0.6"/>
<line x1="1074.50" y1="428.30" x2="1135.75" y2="428.30" stroke="#4a4a4a" stroke-width="0.6"/>
<line x1="1074.50" y1="433.30" x2="1135.75" y2="433.30" stroke="#4a4a4a" stroke-width="0.6"/>
<line x1="1074.50" y1="438.50" x2="1135.75" y2="438.50" stroke="#4a4a4a" stroke-width="0.6"/>
<rect x="985.00" y="432.00" width="1.20" height="34.25" fill="#000"/>
<path d="M985.60,466.50 A32.00,32.00 0 0 0 1017.29,438.95" fill="none" stroke="#000" stroke-width="0.6" />
<rect x="901.00" y="509.50" width="70.25" height="6.25" fill="#000"/>
<rect x="965.00" y="504.50" width="6.25" height="5.50" fill="#000"/>
<rect x="890.50" y="724.10" width="27.50" height="11.30" fill="#000"/>
<rect x="1134.80" y="724.10" width="28.00" height="11.30" fill="#000"/>
<rect x="924.50" y="724.40" width="204.00" height="10.70" fill="none" stroke="#777" stroke-width="0.7" rx="0"/>
<line x1="918.00" y1="729.60" x2="924.50" y2="729.60" stroke="#888" stroke-width="0.7"/>
<line x1="1128.25" y1="729.60" x2="1135.00" y2="729.60" stroke="#888" stroke-width="0.7"/>
<text x="1031.60" y="587.75" font-size="10.5" text-anchor="middle" font-weight="bold" fill="#000" >Garage</text>
<text x="1031.25" y="599.75" font-size="10.5" text-anchor="middle" fill="#000" >21'3 (6.47)</text>
<text x="1029.50" y="611.50" font-size="10.5" text-anchor="middle" fill="#000" >x 18'8 (5.68)</text>
<text x="891.40" y="757.10" font-size="14.5" text-anchor="start" font-weight="bold" textLength="75.80" lengthAdjust="spacingAndGlyphs" fill="#000" >GARAGE 2</text>
<text x="1194.50" y="29.20" font-size="29.1" text-anchor="end" font-weight="bold" textLength="321.80" lengthAdjust="spacingAndGlyphs" fill="#000" >Newport Pagnell, MK16</text>
<text x="1195.00" y="60.50" font-size="17.5" text-anchor="end" textLength="445.90" lengthAdjust="spacingAndGlyphs" fill="#000" >Approximate Area = 1658 sq ft / 154 sq m (excludes void)</text>
<text x="1195.00" y="81.70" font-size="17.5" text-anchor="end" textLength="312.60" lengthAdjust="spacingAndGlyphs" fill="#000" >Limited Use Area(s) = 75 sq ft / 6.9 sq m</text>
<text x="1195.00" y="102.90" font-size="17.5" text-anchor="end" textLength="245.30" lengthAdjust="spacingAndGlyphs" fill="#000" >Garages = 613 sq ft / 56.9 sq m</text>
<text x="1195.00" y="123.70" font-size="17.5" text-anchor="end" textLength="261.10" lengthAdjust="spacingAndGlyphs" fill="#000" >Outbuildings = 140 sq ft / 13 sq m</text>
<text x="1195.00" y="144.90" font-size="17.5" text-anchor="end" textLength="234.60" lengthAdjust="spacingAndGlyphs" fill="#000" >Total = 2486 sq ft / 230.8 sq m</text>
<text x="1195.00" y="166.20" font-size="11.6" text-anchor="end" textLength="182.00" lengthAdjust="spacingAndGlyphs" fill="#000" >For identification only - Not to scale</text>
<rect x="1048.30" y="182.50" width="135.40" height="57.80" fill="none" stroke="#c4c4c4" stroke-width="0.8" rx="0"/>
<line x1="1067.20" y1="182.50" x2="1067.20" y2="240.30" stroke="#c4c4c4" stroke-width="0.8"/>
<line x1="1091.30" y1="182.50" x2="1091.30" y2="240.30" stroke="#c4c4c4" stroke-width="0.8"/>
<line x1="1115.50" y1="182.50" x2="1115.50" y2="240.30" stroke="#c4c4c4" stroke-width="0.8"/>
<line x1="1140.50" y1="182.50" x2="1140.50" y2="240.30" stroke="#c4c4c4" stroke-width="0.8"/>
<line x1="1164.20" y1="182.50" x2="1164.20" y2="240.30" stroke="#c4c4c4" stroke-width="0.8"/>
<text x="1115.50" y="209.20" font-size="14.4" text-anchor="middle" font-weight="bold" textLength="127.50" lengthAdjust="spacingAndGlyphs" fill="#000" >Denotes restricted</text>
<text x="1115.90" y="225.00" font-size="14.4" text-anchor="middle" font-weight="bold" textLength="81.70" lengthAdjust="spacingAndGlyphs" fill="#000" >head height</text>
<polygon points="770.82,92.80 773.79,115.01 756.83,110.30" fill="#000" stroke="none" stroke-width="0"/>
<polygon points="797.70,140.32 775.49,143.29 780.20,126.33" fill="#000" stroke="none" stroke-width="0"/>
<polygon points="750.18,167.20 747.21,144.99 764.17,149.70" fill="#000" stroke="none" stroke-width="0"/>
<polygon points="723.30,119.68 745.51,116.71 740.80,133.67" fill="#000" stroke="none" stroke-width="0"/>
<polygon points="731.94,79.52 766.65,107.84 810.98,101.44 782.66,136.15 789.06,180.48 754.35,152.16 710.02,158.56 738.34,123.85" fill="#fff" stroke="#000" stroke-width="0.95"/>
<circle cx="760.5" cy="130" r="20.9" fill="#fff" stroke="#000" stroke-width="0.9"/>
<circle cx="760.5" cy="130" r="7.2" fill="#fff" stroke="#555" stroke-width="0.7"/>
<line x1="756.95" y1="123.73" x2="750.21" y2="111.81" stroke="#555" stroke-width="0.6"/>
<line x1="766.77" y1="126.45" x2="778.69" y2="119.71" stroke="#555" stroke-width="0.6"/>
<line x1="764.05" y1="136.27" x2="770.79" y2="148.19" stroke="#555" stroke-width="0.6"/>
<line x1="754.23" y1="133.55" x2="742.31" y2="140.29" stroke="#555" stroke-width="0.6"/>
<text x="0" y="0" font-size="12.6" text-anchor="middle" transform="translate(745.83,104.06) rotate(-29.5) translate(0,4.5)" textLength="8.3" lengthAdjust="spacingAndGlyphs">N</text>
<text x="0" y="0" font-size="12.6" text-anchor="middle" transform="translate(786.00,115.57) rotate(-29.5) translate(0,4.5)" textLength="6.6" lengthAdjust="spacingAndGlyphs">E</text>
<text x="0" y="0" font-size="12.6" text-anchor="middle" transform="translate(775.57,156.63) rotate(-29.5) translate(0,4.5)" textLength="6.4" lengthAdjust="spacingAndGlyphs">S</text>
<text x="0" y="0" font-size="12.6" text-anchor="middle" transform="translate(734.22,144.87) rotate(-29.5) translate(0,4.5)" textLength="11.2" lengthAdjust="spacingAndGlyphs">W</text>
<text x="0" y="0" font-size="8.6" text-anchor="middle" transform="translate(763.87,117.86) rotate(15.5) translate(0,3)" textLength="11.3" lengthAdjust="spacingAndGlyphs">NE</text>
<text x="0" y="0" font-size="8.6" text-anchor="middle" transform="translate(772.64,133.37) rotate(105.5) translate(0,3)" textLength="11.3" lengthAdjust="spacingAndGlyphs">SE</text>
<text x="0" y="0" font-size="8.6" text-anchor="middle" transform="translate(757.13,142.14) rotate(195.5) translate(0,3)" textLength="13" lengthAdjust="spacingAndGlyphs">SW</text>
<text x="0" y="0" font-size="8.6" text-anchor="middle" transform="translate(748.36,126.63) rotate(285.5) translate(0,3)" textLength="13" lengthAdjust="spacingAndGlyphs">NW</text>
<path d="M2.4,835.6 V802.5 A7.6,7.6 0 0 1 10,794.9 H43.4 V835.6 Z" fill="#686868" stroke="none" stroke-width="0" />
<path d="M46.4,795.4 H125.3 V828 A7.4,7.4 0 0 1 117.9,835.4 H46.4 Z" fill="#fff" stroke="#686868" stroke-width="1.0" />
<text x="53.10" y="807.90" font-size="10.8" text-anchor="start" font-weight="bold" textLength="43.90" lengthAdjust="spacingAndGlyphs" fill="#686868" >Certified</text>
<text x="53.10" y="818.80" font-size="10.8" text-anchor="start" font-weight="bold" textLength="44.40" lengthAdjust="spacingAndGlyphs" fill="#686868" >Property</text>
<text x="53.10" y="830.10" font-size="10.8" text-anchor="start" font-weight="bold" textLength="47.60" lengthAdjust="spacingAndGlyphs" fill="#686868" >Measurer</text>
<text x="23.50" y="828.50" font-size="9.1" text-anchor="middle" font-weight="bold" textLength="26.50" lengthAdjust="spacingAndGlyphs" fill="#fff" stroke="#fff" stroke-width="0.45">RICS</text>
<circle cx="23.3" cy="811.4" r="8.1" fill="none" stroke="#fff" stroke-width="1.4"/>
<path d="M19.2,818.3 C17.3,815.8 16.6,812.6 17.4,809.8 C17.2,808.2 18,806.6 19.4,806 C19.6,804.6 20.8,804.3 21.6,805.2 C22.4,803.9 23.8,804.1 24.2,805.3 C25.4,804.6 26.6,805.3 26.4,806.6 C27.6,807 28,808.2 27.3,809 L29.2,811.2 C29.4,812.2 28.8,812.8 27.9,812.7 C28,813.8 27.2,814.4 26.2,814.1 C25.6,815.2 25.8,816.6 26.6,817.8 C25.4,818.9 23.6,819.2 22.4,818.6 C22.8,817.4 22.4,816.2 21.4,815.6 C21.2,816.8 20.4,817.8 19.2,818.3 Z" fill="#fff" stroke="none" stroke-width="0" />
<polyline points="20.20,807.60 19.20,810.20 19.60,813.00 21.00,815.00" fill="none" stroke="#686868" stroke-width="0.7" />
<polyline points="22.40,806.40 21.60,808.60 22.00,811.00 23.40,812.60 23.20,814.60" fill="none" stroke="#686868" stroke-width="0.7" />
<polyline points="24.60,807.00 24.20,808.80 25.40,810.00 26.80,810.20" fill="none" stroke="#686868" stroke-width="0.7" />
<text x="37.6" y="824.6" font-size="2.6" fill="#fff">®</text>
<text x="134.50" y="804.30" font-size="10.2" text-anchor="start" textLength="436.00" lengthAdjust="spacingAndGlyphs" fill="#5a5a5a" >Floor plan produced in accordance with RICS Property Measurement Standards incorporating</text>
<text x="134.50" y="817.30" font-size="10.2" text-anchor="start" textLength="315.50" lengthAdjust="spacingAndGlyphs" fill="#5a5a5a" >International Property Measurement Standards (IPMS2 Residential).</text>
<text x="461.60" y="817.30" font-size="9.6" text-anchor="start" fill="#5a5a5a" >©</text>
<text x="470.70" y="817.30" font-size="11.2" text-anchor="start" textLength="45.30" lengthAdjust="spacingAndGlyphs" fill="#5a5a5a" >nichecom</text>
<text x="518.70" y="817.30" font-size="10.2" text-anchor="start" textLength="25.30" lengthAdjust="spacingAndGlyphs" fill="#5a5a5a" >2024.</text>
<text x="134.50" y="830.20" font-size="10.2" text-anchor="start" textLength="128.50" lengthAdjust="spacingAndGlyphs" fill="#5a5a5a" >Produced for Chewton Rose.</text>
<text x="278.50" y="830.20" font-size="10.2" text-anchor="start" textLength="23.00" lengthAdjust="spacingAndGlyphs" fill="#5a5a5a" >REF:</text>
<text x="308.00" y="830.20" font-size="10.2" text-anchor="start" textLength="40.00" lengthAdjust="spacingAndGlyphs" fill="#5a5a5a" >1140381</text>
</svg>
</body></html>
